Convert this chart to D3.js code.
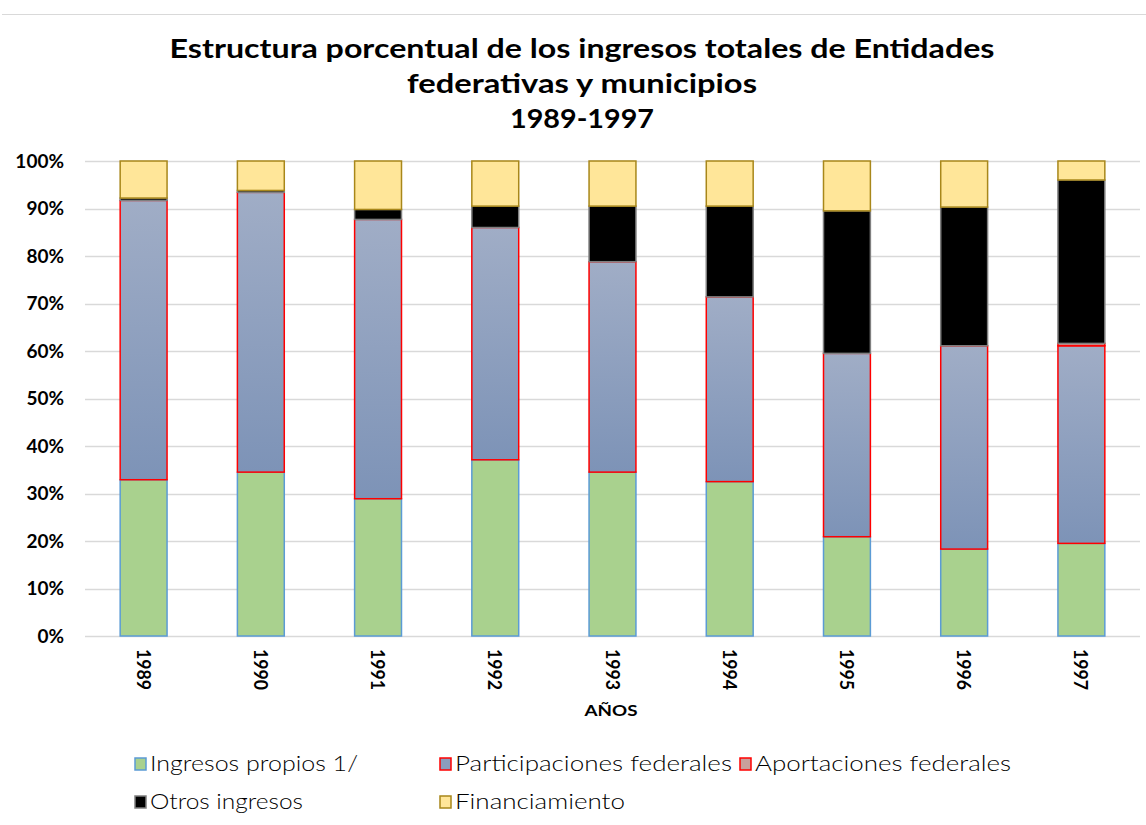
<!DOCTYPE html>
<html>
<head>
<meta charset="utf-8">
<script src="https://cdn.jsdelivr.net/npm/d3@7/dist/d3.min.js"></script>
<style>
  body { margin: 0; background: #fff; }
  svg text { font-family: "Century Gothic", "Lato", "DejaVu Sans", sans-serif; }
</style>
</head>
<body>
<svg id="chart" width="1146" height="825"></svg>
<script>
// data (percent of total)
const years = ["1989", "1990", "1991", "1992", "1993", "1994", "1995", "1996", "1997"];
const ingresosPropios = [32.9, 34.5, 28.9, 37.1, 34.5, 32.5, 20.9, 18.3, 19.5];
const participaciones = [58.8, 58.9, 58.8, 48.9, 44.3, 38.9, 38.6, 42.8, 41.6];
const aportaciones = [0, 0, 0, 0, 0, 0, 0, 0, 0.5];
const otrosIngresos = [0.5, 0.4, 2.1, 4.5, 11.7, 19.1, 30.0, 29.2, 34.4];
const financiamiento = [7.8, 6.2, 10.2, 9.5, 9.5, 9.5, 10.5, 9.7, 4.0];
const yTicks = [0, 10, 20, 30, 40, 50, 60, 70, 80, 90, 100];

const seriesNames = ["Ingresos propios 1/", "Participaciones federales", "Aportaciones federales", "Otros ingresos", "Financiamiento"];
const seriesKeys = ["propios", "part", "aport", "otros", "fin"];
const fills = ["#a9d18e", "url(#partGrad)", "#c9a09c", "#000000", "#ffe699"];
const strokes = ["#5b9bd5", "#ff0000", "#ff0000", "#7f7f7f", "#a8871a"];

const rows = years.map((y, i) => ({
  year: y,
  propios: ingresosPropios[i],
  part: participaciones[i],
  aport: aportaciones[i],
  otros: otrosIngresos[i],
  fin: financiamiento[i]
}));

const svg = d3.select("#chart");

// gradient for participaciones
const grad = svg.append("defs").append("linearGradient")
  .attr("id", "partGrad")
  .attr("x1", 0).attr("y1", 0).attr("x2", 0).attr("y2", 1);
grad.append("stop").attr("offset", "0%").attr("stop-color", "#a0adc6");
grad.append("stop").attr("offset", "100%").attr("stop-color", "#7d93b7");

// top border line
svg.append("line")
  .attr("x1", 2).attr("x2", 1146).attr("y1", 14.5).attr("y2", 14.5)
  .attr("stroke", "#d9d9d9").attr("stroke-width", 1);

// title
const titleLines = [
  { t: "Estructura porcentual de los ingresos totales de Entidades", y: 58, w: 825 },
  { t: "federativas y municipios", y: 93, w: 350 },
  { t: "1989-1997", y: 128, w: 144 }
];
svg.append("g").selectAll("text")
  .data(titleLines)
  .join("text")
  .attr("x", 582)
  .attr("y", d => d.y)
  .attr("text-anchor", "middle")
  .attr("font-size", 26)
  .attr("font-weight", "bold")
  .attr("fill", "#000")
  .attr("textLength", d => d.w)
  .attr("lengthAdjust", "spacingAndGlyphs")
  .text(d => d.t);

const x = d3.scaleBand()
  .domain(years)
  .range([85, 1140])
  .paddingInner(0.6)
  .paddingOuter(0.3);

const y = d3.scaleLinear()
  .domain([0, 100])
  .range([636, 161]);

// gridlines
svg.append("g").selectAll("line")
  .data(yTicks)
  .join("line")
  .attr("x1", 85).attr("x2", 1140)
  .attr("y1", d => Math.round(y(d)) + 0.5)
  .attr("y2", d => Math.round(y(d)) + 0.5)
  .attr("stroke", "#d9d9d9")
  .attr("stroke-width", 1.5);

// y axis labels
const yAxis = d3.axisLeft(y).tickValues(yTicks).tickFormat(d => d + "%").tickSize(0).tickPadding(0);
const yg = svg.append("g").attr("transform", "translate(64,0)").call(yAxis);
yg.select(".domain").remove();
yg.selectAll("text")
  .attr("font-size", 19)
  .attr("font-weight", "bold")
  .attr("fill", "#000")
  .attr("font-family", "'Century Gothic', Lato, 'DejaVu Sans', sans-serif");

// stacked bars
const stack = d3.stack().keys(seriesKeys);
const stacked = stack(rows);

svg.append("g").selectAll("g")
  .data(stacked)
  .join("g")
  .attr("fill", (d, i) => fills[i])
  .attr("stroke", (d, i) => strokes[i])
  .attr("stroke-width", 1.5)
  .selectAll("rect")
  .data(d => d.filter(s => s[1] - s[0] > 0))
  .join("rect")
  .attr("x", d => x(d.data.year))
  .attr("width", x.bandwidth())
  .attr("y", d => y(d[1]))
  .attr("height", d => y(d[0]) - y(d[1]));

// x axis labels (rotated)
const xAxis = d3.axisBottom(x).tickSize(0).tickPadding(0);
const xg = svg.append("g").attr("transform", "translate(0,649)").call(xAxis);
xg.select(".domain").remove();
xg.selectAll("text")
  .attr("font-size", 18)
  .attr("font-weight", "bold")
  .attr("fill", "#000")
  .attr("font-family", "'Century Gothic', Lato, 'DejaVu Sans', sans-serif")
  .attr("text-anchor", "start")
  .attr("dy", null)
  .attr("y", 0)
  .attr("x", 0)
  .attr("textLength", 41)
  .attr("lengthAdjust", "spacingAndGlyphs")
  .attr("transform", "rotate(90) translate(0,7)");

// x axis title
svg.append("text")
  .attr("x", 611)
  .attr("y", 716)
  .attr("text-anchor", "middle")
  .attr("font-size", 16)
  .attr("font-weight", "bold")
  .attr("fill", "#000")
  .attr("textLength", 53)
  .attr("lengthAdjust", "spacingAndGlyphs")
  .text("AÑOS");

// legend
const legendPos = [
  { x: 135, y: 764, w: 208 }, { x: 440, y: 764, w: 277 }, { x: 740, y: 764, w: 256 },
  { x: 135, y: 802, w: 153 }, { x: 440, y: 802, w: 170 }
];
const legend = svg.append("g").selectAll("g")
  .data(seriesNames)
  .join("g")
  .attr("transform", (d, i) => `translate(${legendPos[i].x},${legendPos[i].y})`);

legend.append("rect")
  .attr("x", 0).attr("y", -6)
  .attr("width", 11).attr("height", 12)
  .attr("fill", (d, i) => i === 1 ? "#8b9dbd" : fills[i])
  .attr("stroke", (d, i) => strokes[i])
  .attr("stroke-width", 1.5);

legend.append("text")
  .attr("x", 15)
  .attr("y", 0)
  .attr("dy", "0.35em")
  .attr("font-size", 21)
  .attr("font-weight", 300)
  .attr("fill", "#000")
  .attr("textLength", (d, i) => legendPos[i].w)
  .attr("lengthAdjust", "spacingAndGlyphs")
  .text(d => d);
</script>
</body>
</html>
